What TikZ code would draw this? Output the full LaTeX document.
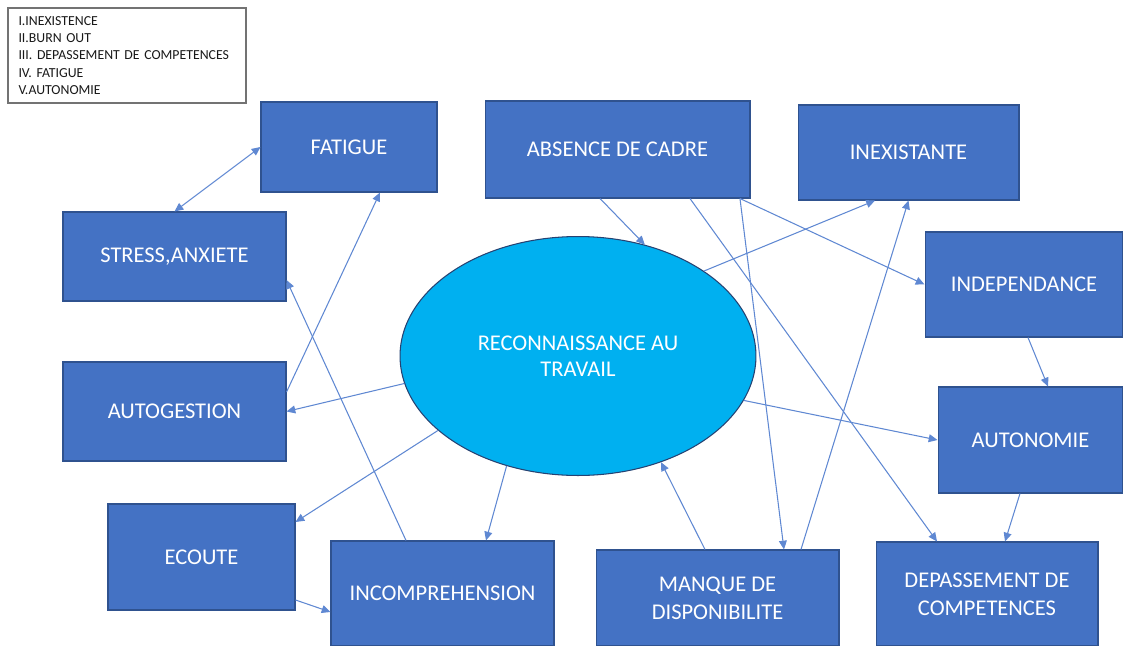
\documentclass[tikz,border=0pt]{standalone}
\usepackage{fontspec}
\setmainfont{Carlito}
\usepackage{xcolor}
\usetikzlibrary{shapes.geometric, arrows.meta}
\definecolor{boxblue}{HTML}{4472C4}
\definecolor{boxline}{HTML}{2F528F}
\definecolor{ovalblue}{HTML}{00B0F0}
\definecolor{linkblue}{HTML}{5F88D2}

\begin{document}
\begin{tikzpicture}[x=0.02cm, y=-0.02cm,
        box/.style={rectangle, fill=boxblue, draw=boxline, line width=0.6pt, text=white,
            align=center, inner sep=2pt, font=\fontsize{12.8}{16}\selectfont},
        link/.style={color=linkblue, line width=0.6pt, -{Triangle[length=5pt,width=4.5pt]}}]
        \useasboundingbox (0,0) rectangle (1123,646);

        % legende
        \node[draw=black!55, line width=0.7pt, fill=white, minimum width=4.76cm, minimum height=1.9cm,
            text width=4.34cm, align=left, inner sep=0pt, font=\fontsize{7.85}{9.9}\selectfont,
            text=black!90] (leg) at (127,55.5)
            {I.INEXISTENCE\\II.BURN OUT\\III. DEPASSEMENT DE COMPETENCES\\IV. FATIGUE\\V.AUTONOMIE};

        \node[ellipse, fill=ovalblue, draw=boxline!80!black, line width=0.6pt, text=white,
            minimum width=7.12cm, minimum height=4.78cm, align=center,
            font=\fontsize{12.8}{15}\selectfont] (rec) at (578,356) {RECONNAISSANCE AU\\TRAVAIL};

        \node[box, minimum width=3.52cm, minimum height=1.8cm] (fat) at (349,147) {FATIGUE};
        \node[box, minimum width=5.3cm, minimum height=1.94cm] (abs) at (617.5,149.5) {ABSENCE DE CADRE};
        \node[box, minimum width=4.42cm, minimum height=1.9cm] (inex) at (908.5,152.5) {INEXISTANTE};
        \node[box, minimum width=4.46cm, minimum height=1.78cm] (stress) at (174.5,256.5) {STRESS,ANXIETE};
        \node[box, minimum width=3.96cm, minimum height=2.1cm] (indep) at (1024,284.5) {INDEPENDANCE};
        \node[box, minimum width=4.46cm, minimum height=1.98cm] (autog) at (174.5,411.5) {AUTOGESTION};
        \node[box, minimum width=3.7cm, minimum height=2.12cm] (auton) at (1030.5,440) {AUTONOMIE};
        \node[box, minimum width=3.74cm, minimum height=2.12cm] (ecoute) at (201.5,557) {ECOUTE};
        \node[box, minimum width=4.46cm, minimum height=2.1cm] (incomp) at (442.5,593.5) {INCOMPREHENSION};
        \node[box, minimum width=4.86cm, minimum height=1.92cm] (manque) at (717.5,598) {MANQUE DE\\DISPONIBILITE};
        \node[box, minimum width=4.44cm, minimum height=2.08cm] (depas) at (987,594) {DEPASSEMENT DE\\COMPETENCES};

        \draw[link, {Triangle[length=5pt,width=4.5pt]}-{Triangle[length=5pt,width=4.5pt]}] (fat.west) -- (stress.north);
        \draw[link] ([yshift=0.39cm]autog.east) -- ([xshift=0.62cm]fat.south);
        \draw[link] ([xshift=-0.73cm]incomp.north) -- ([yshift=-0.47cm]stress.east);

        \draw[link] (rec.189.5) -- (autog.east);
        \draw[link] (rec.208) -- ([yshift=0.7cm]ecoute.east);
        \draw[link] (rec.237) -- ([xshift=0.87cm]incomp.north);
        \draw[link] ([yshift=-0.86cm]ecoute.east) -- ([yshift=-0.37cm]incomp.west);

        \draw[link] ([xshift=-0.35cm]abs.south) -- (rec.59);
        \draw[link] (rec.34) -- ([xshift=-0.67cm]inex.south);
        \draw[link] ([xshift=2.45cm]abs.south) -- (indep.west);
        \draw[link] ([xshift=2.45cm]abs.south) -- ([xshift=1.33cm]manque.north);
        \draw[link] ([xshift=1.45cm]abs.south) -- ([xshift=-1.0cm]depas.north);

        \draw[link] ([xshift=1.67cm]manque.north) -- (inex.south);
        \draw[link] ([xshift=-0.25cm]manque.north) -- (rec.308.6);
        \draw[link] (rec.345) -- (auton.west);

        \draw[link] ([xshift=0.08cm]indep.south) -- ([xshift=0.35cm]auton.north);
        \draw[link] ([xshift=-0.21cm]auton.south) -- ([xshift=0.36cm]depas.north);
\end{tikzpicture}
\end{document}
